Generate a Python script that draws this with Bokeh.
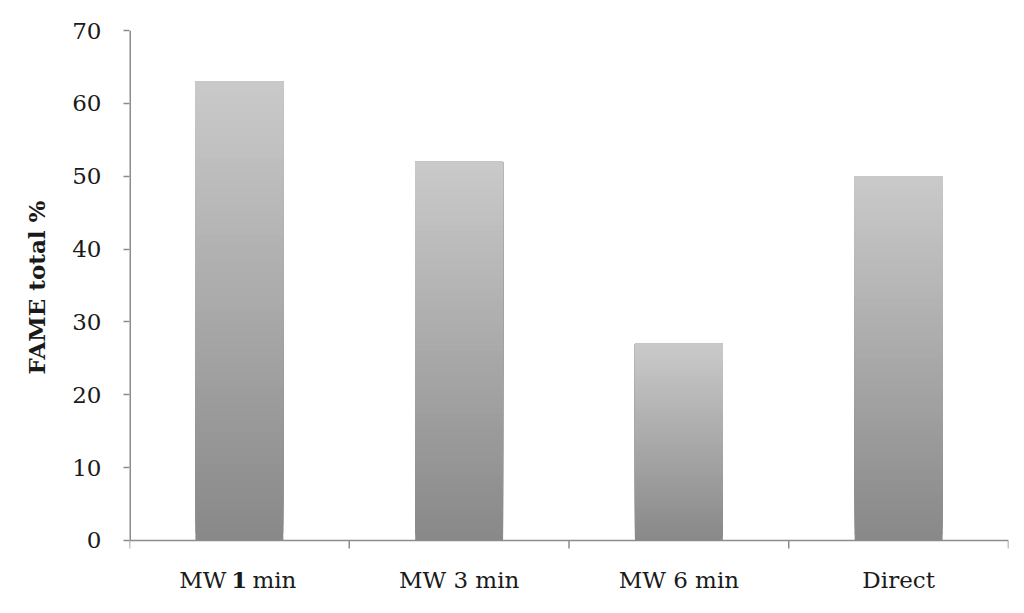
from bokeh.plotting import figure
from bokeh.models import FixedTicker, Range1d, ColumnDataSource, Title
from bokeh.core.properties import value
from bokeh.embed import file_html
from bokeh.resources import INLINE

categories = ["MW 1 min", "MW 3 min", "MW 6 min", "Direct"]
values = [63, 52, 27, 50]
y_ticks = [0, 10, 20, 30, 40, 50, 60, 70]
y_label = "FAME total %"

FONT = "DejaVu Serif"
FS = "23px"
TXT = "#1a1a1a"
AXIS_COLOR = "#8c8c8c"

PX_PER_UNIT = 510 / 70
Y_MIN = -8.65   # room below zero for category labels
p = figure(width=1016, height=605, output_backend="svg", toolbar_location=None,
           x_range=Range1d(0, len(categories)), y_range=Range1d(Y_MIN, 70),
           x_axis_location=None,
           min_border_left=129, min_border_right=8, min_border_top=30, min_border_bottom=2)
p.outline_line_color = None
p.grid.visible = False
p.background_fill_color = "white"

# gradient bars: overlapping slices dark (bottom) -> light (top), per bar
N = 60
top_rgb = (202, 202, 202)
bot_rgb = (136, 136, 136)
xs, bots, tops, cols = [], [], [], []
for i, v in enumerate(values):
    for k in range(N):
        f = (k + 0.5) / N
        c = tuple(int(round(bot_rgb[j] + (top_rgb[j] - bot_rgb[j]) * f)) for j in range(3))
        xs.append(i + 0.5)
        bots.append(v * k / N)
        tops.append(v)
        cols.append("#%02x%02x%02x" % c)
src = ColumnDataSource(dict(x=xs, bottom=bots, top=tops, color=cols))
p.vbar(x="x", bottom="bottom", top="top", width=0.4, fill_color="color",
       line_color=None, source=src)

# y axis (ticks and labels); axis line drawn separately so it stops at zero
ya = p.yaxis[0]
ya.ticker = FixedTicker(ticks=y_ticks)
ya.minor_tick_line_color = None
ya.major_tick_in = 0
ya.major_tick_out = 6
ya.axis_line_color = None
ya.major_tick_line_color = AXIS_COLOR
ya.major_tick_line_width = 1.5
ya.major_label_text_font = FONT
ya.major_label_text_font_size = FS
ya.major_label_text_color = TXT
ya.major_label_standoff = 22

# y axis title, centred on the 0..70 span (frame extends below zero)
p.add_layout(Title(text=y_label, align="left", offset=229, text_font=FONT,
                   text_font_size="23px", text_font_style="bold", text_color=TXT,
                   standoff=39), "left")

p.segment(x0=[0], y0=[0], x1=[0], y1=[y_ticks[-1]], line_color=AXIS_COLOR, line_width=3)

# x axis line at zero and boundary ticks
n = len(categories)
p.segment(x0=[0], y0=[0], x1=[n], y1=[0], line_color=AXIS_COLOR, line_width=1.5)
tick_len = 8 / PX_PER_UNIT
p.segment(x0=list(range(n + 1)), y0=[0] * (n + 1), x1=list(range(n + 1)),
          y1=[-tick_len] * (n + 1), line_color=AXIS_COLOR, line_width=1.5)

# category labels
label_y = -40 / PX_PER_UNIT
plain_x, plain_t = [], []
for i, cat in enumerate(categories):
    cx = i + 0.5
    parts = cat.split(" ")
    if i == 0 and len(parts) == 3:
        p.text(x=[cx], y=[label_y], text=[parts[0]], x_offset=-13, text_align="right",
               text_baseline="middle", text_font=value(FONT), text_font_size=FS, text_color=TXT)
        p.text(x=[cx], y=[label_y], text=[parts[1]], text_align="center",
               text_baseline="middle", text_font=value(FONT), text_font_size=FS,
               text_font_style="bold", text_color=TXT)
        p.text(x=[cx], y=[label_y], text=[parts[2]], x_offset=13, text_align="left",
               text_baseline="middle", text_font=value(FONT), text_font_size=FS, text_color=TXT)
    else:
        plain_x.append(cx)
        plain_t.append(cat)
p.text(x=plain_x, y=[label_y] * len(plain_x), text=plain_t, text_align="center",
       text_baseline="middle", text_font=value(FONT), text_font_size=FS, text_color=TXT)

open("out.html", "w").write(file_html(p, INLINE))
